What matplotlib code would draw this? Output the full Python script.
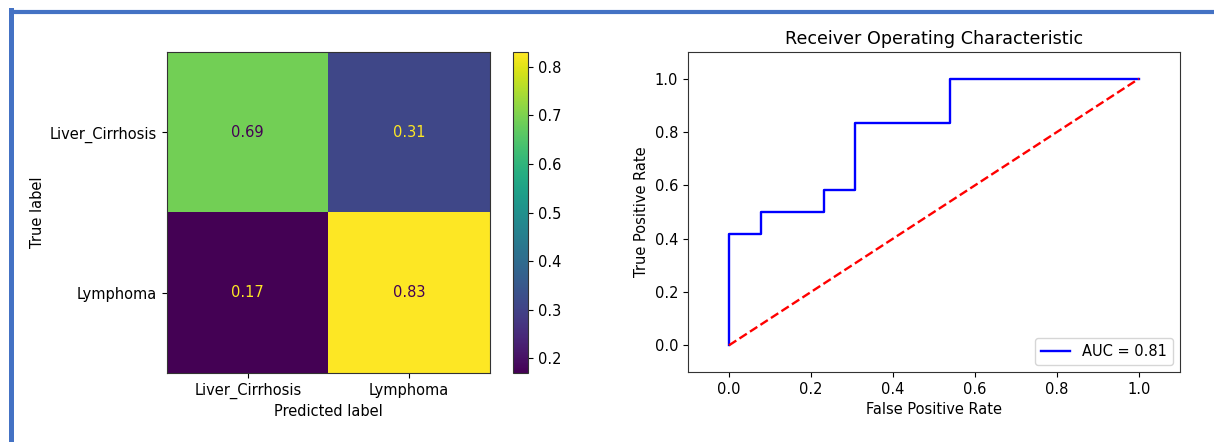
import numpy as np
import matplotlib
matplotlib.use('Agg')
import matplotlib.pyplot as plt
from matplotlib.lines import Line2D

# ========== Data ==========
class_names = ['Liver_Cirrhosis', 'Lymphoma']
cm_values = np.array([[0.69, 0.31],
                      [0.17, 0.83]])

fpr = [0.0, 0.0, 0.077, 0.077, 0.231, 0.231, 0.308, 0.308, 0.538, 0.538, 1.0]
tpr = [0.0, 0.417, 0.417, 0.5, 0.5, 0.583, 0.583, 0.833, 0.833, 1.0, 1.0]
auc_value = 0.81

# ========== Style ==========
plt.rcParams['font.size'] = 10.5
plt.rcParams['axes.titlesize'] = 12.6
plt.rcParams['lines.linewidth'] = 1.7
plt.rcParams['axes.edgecolor'] = '#333333'

# ========== Figure ==========
fig = plt.figure(figsize=(12.14, 4.42), dpi=100)

# === Confusion matrix ===
ax_cm = fig.add_axes([0.1376, 0.1561, 0.266, 0.726])
cax = fig.add_axes([0.4226, 0.1561, 0.0124, 0.726])
im = ax_cm.imshow(cm_values, cmap='viridis', interpolation='nearest')
cmap = im.cmap
thresh = (cm_values.max() + cm_values.min()) / 2.0
for i in range(cm_values.shape[0]):
    for j in range(cm_values.shape[1]):
        color = cmap(0.0) if cm_values[i, j] > thresh else cmap(1.0)
        ax_cm.text(j, i, f"{cm_values[i, j]:.2g}", ha='center', va='center',
                   color=color, fontsize=10.5)
ax_cm.set_xticks(range(len(class_names)))
ax_cm.set_yticks(range(len(class_names)))
ax_cm.set_xticklabels(class_names)
ax_cm.set_yticklabels(class_names)
ax_cm.set_xlabel('Predicted label')
ax_cm.set_ylabel('True label')
ax_cm.set_aspect('auto')
fig.colorbar(im, cax=cax)

# === ROC curve ===
ax_roc = fig.add_axes([0.5667, 0.1584, 0.4053, 0.724])
ax_roc.plot(fpr, tpr, 'b', label=f'AUC = {auc_value:.2f}')
ax_roc.plot([0, 1], [0, 1], 'r--')
ax_roc.set_xlim(-0.1, 1.1)
ax_roc.set_ylim(-0.1, 1.1)
ax_roc.set_title('Receiver Operating Characteristic')
ax_roc.set_xlabel('False Positive Rate')
ax_roc.set_ylabel('True Positive Rate')
ax_roc.legend(loc='lower right')

# === Blue frame around the screenshot ===
frame_color = '#4472C4'
fig.add_artist(Line2D([10.5 / 1214, 10.5 / 1214], [0, 1 - 10 / 442],
                      transform=fig.transFigure, color=frame_color, lw=3.6,
                      solid_capstyle='projecting'))
fig.add_artist(Line2D([10.5 / 1214, 1], [1 - 12 / 442, 1 - 12 / 442],
                      transform=fig.transFigure, color=frame_color, lw=3.0,
                      solid_capstyle='butt'))

fig.savefig('out.png', dpi=100)
